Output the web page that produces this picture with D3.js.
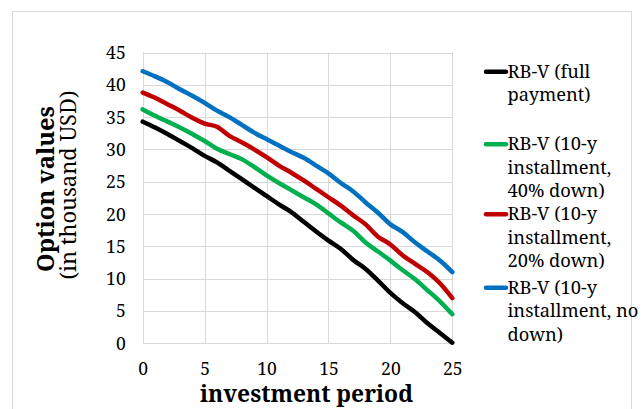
<!DOCTYPE html>
<html>
<head>
<meta charset="utf-8">
<script src="https://cdn.jsdelivr.net/npm/d3@7"></script>
<style>
  html, body { margin: 0; padding: 0; background: #fff; }
  svg { display: block; }
</style>
</head>
<body>
<svg id="chart" width="642" height="409"></svg>
<script>
// ---- data ----
const periods = d3.range(0, 26);
const fullPayment = [34.3, 33.4, 32.4, 31.3, 30.2, 29.0, 28.0, 26.7, 25.4, 24.1, 22.8, 21.5, 20.3, 18.8, 17.3, 15.9, 14.6, 12.9, 11.5, 9.7, 7.8, 6.2, 4.8, 3.1, 1.6, 0.1];
const down40 = [36.2, 35.2, 34.3, 33.4, 32.4, 31.3, 30.1, 29.3, 28.5, 27.3, 26.0, 24.8, 23.7, 22.6, 21.5, 20.1, 18.7, 17.4, 15.6, 14.2, 12.8, 11.3, 9.9, 8.2, 6.5, 4.5];
const down20 = [38.8, 38.0, 37.0, 36.0, 34.9, 34.0, 33.5, 32.1, 31.1, 30.0, 28.8, 27.5, 26.4, 25.2, 23.9, 22.6, 21.3, 19.8, 18.4, 16.5, 15.3, 13.6, 12.3, 11.0, 9.3, 7.0];
const noDown = [42.1, 41.3, 40.4, 39.3, 38.3, 37.2, 36.0, 35.0, 33.8, 32.6, 31.6, 30.6, 29.6, 28.7, 27.5, 26.3, 24.8, 23.5, 21.8, 20.2, 18.4, 17.2, 15.6, 14.2, 12.8, 11.0];
const seriesNames = [
  ["RB-V (full", "payment)"],
  ["RB-V (10-y", "installment,", "40% down)"],
  ["RB-V (10-y", "installment,", "20% down)"],
  ["RB-V (10-y", "installment, no", "down)"]
];
const seriesColors = ["#000000", "#00b050", "#c00000", "#0070c0"];
const xTicks = [0, 5, 10, 15, 20, 25];
const yTicks = [0, 5, 10, 15, 20, 25, 30, 35, 40, 45];
const xTitle = "investment period";
const yTitle1 = "Option values";
const yTitle2 = "(in thousand USD)";

const allSeries = [fullPayment, down40, down20, noDown];

// ---- layout ----
const FONT = "'Noto Serif', 'DejaVu Serif', serif";
const svg = d3.select("#chart").attr("font-family", FONT);
const x = d3.scaleLinear().domain([0, 25]).range([142.7, 452.3]);
const y = d3.scaleLinear().domain([0, 45]).range([343.3, 52.5]);

function fit(sel, target, base) {
  sel.attr("font-size", base);
  const w = sel.node().getComputedTextLength();
  const fs = base * target / w;
  sel.attr("font-size", fs);
  return fs;
}

// chart border
svg.append("rect").attr("x", 12.5).attr("y", 11.5).attr("width", 619).attr("height", 430)
  .attr("fill", "none").attr("stroke", "#d9d9d9").attr("stroke-width", 1);

// gridlines
const grid = svg.append("g");
grid.selectAll(".hg").data(yTicks).enter().append("line")
  .attr("x1", x(0)).attr("x2", x(25))
  .attr("y1", d => Math.round(y(d)) + 0.5).attr("y2", d => Math.round(y(d)) + 0.5)
  .attr("stroke", "#d9d9d9").attr("stroke-width", 1);
grid.selectAll(".vg").data(xTicks).enter().append("line")
  .attr("y1", y(0)).attr("y2", y(45))
  .attr("x1", d => Math.round(x(d)) + 0.5).attr("x2", d => Math.round(x(d)) + 0.5)
  .attr("stroke", "#d9d9d9").attr("stroke-width", 1);

// tick labels via axes
const yAxis = svg.append("g").attr("transform", `translate(${x(0)},0)`)
  .call(d3.axisLeft(y).tickValues(yTicks).tickSize(0).tickPadding(17));
yAxis.attr("font-family", FONT).attr("font-size", 17.5);
yAxis.select(".domain").remove();
yAxis.selectAll("text").attr("font-family", FONT).attr("font-size", 17.5).attr("fill", "#000").attr("dy", "0.34em");

const xAxis = svg.append("g").attr("transform", `translate(0,${y(0)})`)
  .call(d3.axisBottom(x).tickValues(xTicks).tickSize(0).tickPadding(19));
xAxis.attr("font-family", FONT).attr("font-size", 17.5);
xAxis.select(".domain").remove();
xAxis.selectAll("text").attr("font-family", FONT).attr("font-size", 17.5).attr("fill", "#000");

// lines
const line = d3.line().x((d, i) => x(periods[i])).y(d => y(d)).curve(d3.curveMonotoneX);
allSeries.forEach((s, k) => {
  svg.append("path").datum(s).attr("d", line)
    .attr("fill", "none").attr("stroke", seriesColors[k])
    .attr("stroke-width", 4.5).attr("stroke-linecap", "round").attr("stroke-linejoin", "round");
});

// axis titles
const xt = svg.append("text").attr("x", 306.5).attr("y", 402)
  .attr("font-family", FONT).attr("text-anchor", "middle").attr("font-weight", "bold").text(xTitle);
fit(xt, 213, 20);
const yt1 = svg.append("text").attr("transform", "translate(54,189) rotate(-90)")
  .attr("font-family", FONT).attr("text-anchor", "middle").attr("font-weight", "bold").text(yTitle1);
fit(yt1, 166, 20);
const yt2 = svg.append("text").attr("transform", "translate(76,185) rotate(-90)")
  .attr("font-family", FONT).attr("text-anchor", "middle").text(yTitle2);
fit(yt2, 189, 18);

// legend
const legendY = [71.7, 144.3, 214.3, 287.7];
const probe = svg.append("text").attr("font-family", FONT).text("installment, no");
const legendFs = fit(probe, 131, 17);
probe.remove();
seriesNames.forEach((lines, k) => {
  const g = svg.append("g");
  g.append("line").attr("x1", 486).attr("x2", 506)
    .attr("y1", legendY[k]).attr("y2", legendY[k])
    .attr("stroke", seriesColors[k]).attr("stroke-width", 4.5).attr("stroke-linecap", "round");
  lines.forEach((t, j) => {
    g.append("text").attr("x", 507.5).attr("y", legendY[k] + 6 + j * 23.5)
      .attr("font-family", FONT).attr("font-size", legendFs).attr("fill", "#000").text(t);
  });
});
</script>
</body>
</html>
